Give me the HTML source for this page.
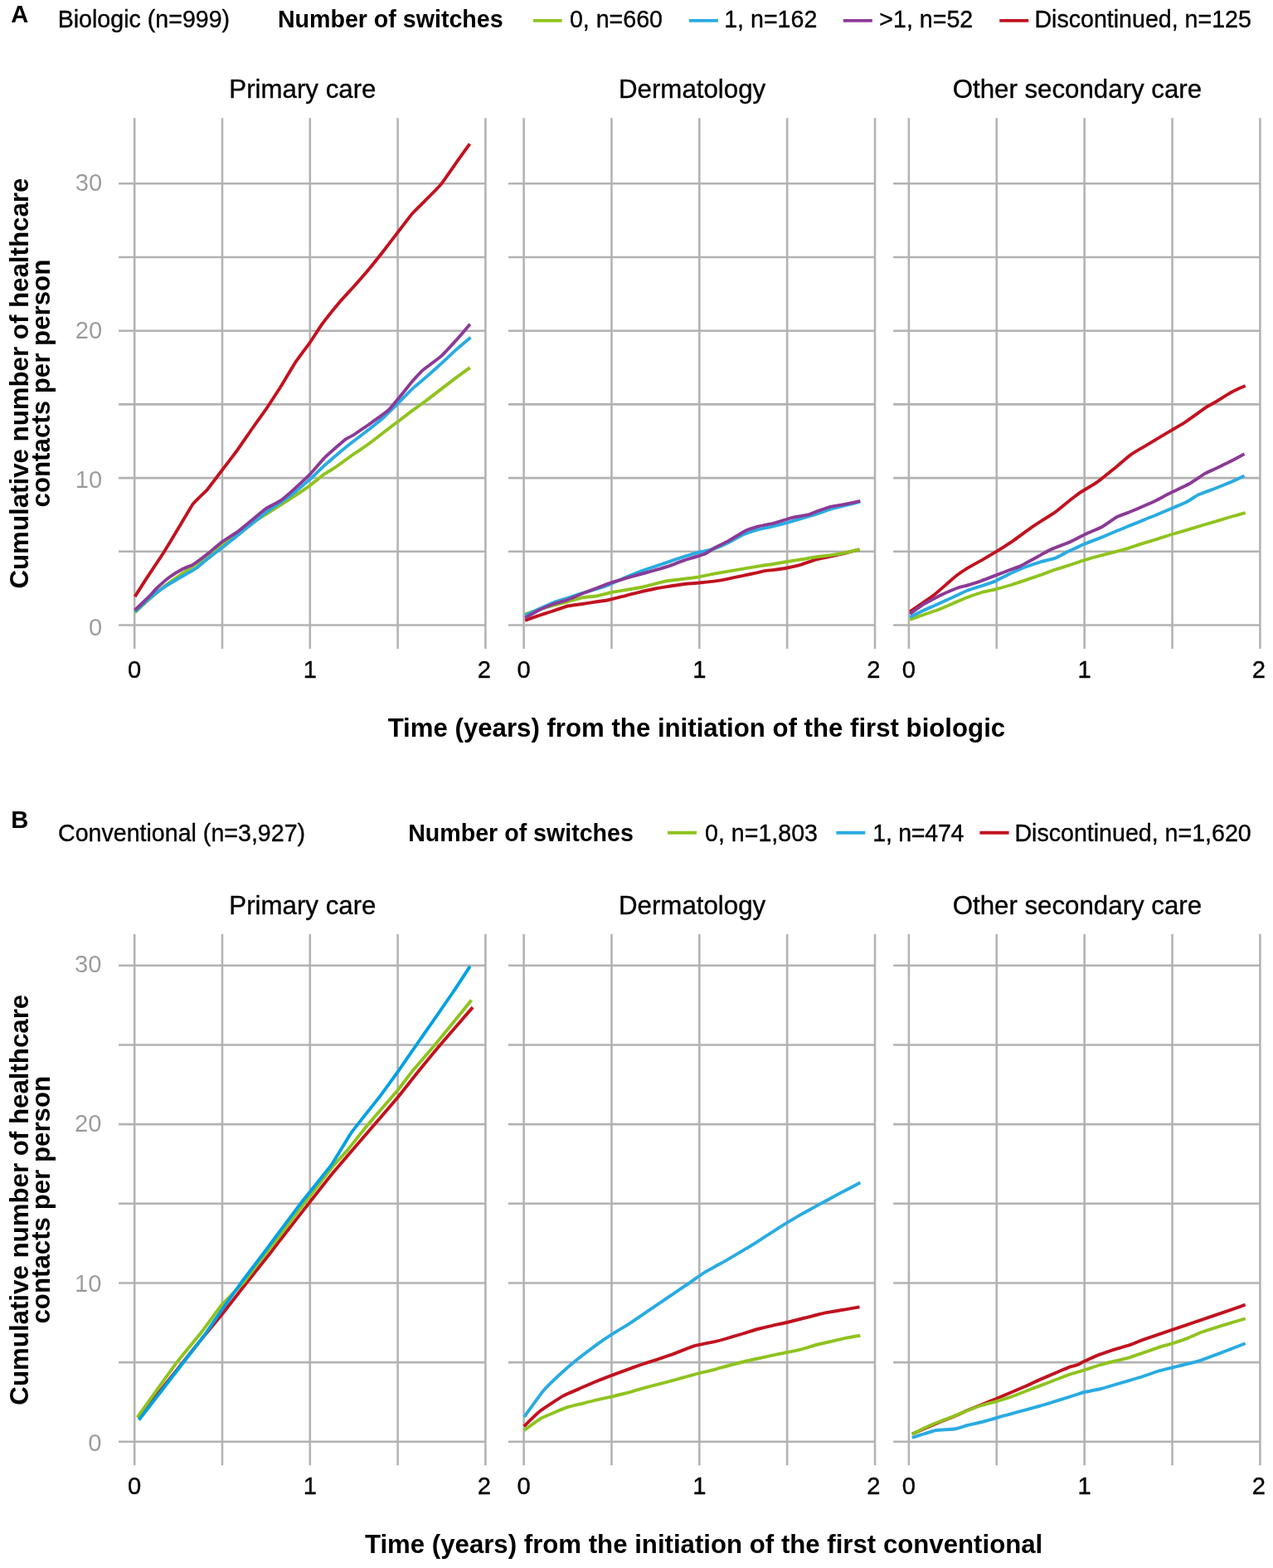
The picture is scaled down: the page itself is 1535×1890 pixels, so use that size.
<!DOCTYPE html>
<html lang="en"><head><meta charset="utf-8"><title>Cumulative number of healthcare contacts per person</title>
<style>html,body{margin:0;padding:0;background:#fff}body{width:1535px;height:1890px;overflow:hidden}svg{display:block;font-family:"Liberation Sans",Arial,Helvetica,sans-serif}text{white-space:pre}</style></head><body>
<svg width="1535" height="1890" viewBox="0 0 1535 1890">
<rect width="1535" height="1890" fill="#fff"/>
<g id="row-a">
<text x="13.2" y="26.7" font-size="29.17" font-weight="bold">A</text>
<text x="69.7" y="33.3" font-size="28.6" stroke="#000" stroke-width="0.35">Biologic (n=999)</text>
<text x="334.9" y="33.3" font-size="28.6" font-weight="bold">Number of switches</text>
<path d="M642.9 24.85H677.6" stroke="#8fc31f" stroke-width="3.9" fill="none"/>
<text x="686.9" y="33.3" font-size="28.6" stroke="#000" stroke-width="0.35">0, n=660</text>
<path d="M831.0 24.85H865.9" stroke="#29abe2" stroke-width="3.9" fill="none"/>
<text x="873.2" y="33.3" font-size="28.6" stroke="#000" stroke-width="0.35">1, n=162</text>
<path d="M1016.8 24.85H1051.8" stroke="#8b3a96" stroke-width="3.9" fill="none"/>
<text x="1060.3" y="33.3" font-size="28.6" stroke="#000" stroke-width="0.35">&gt;1, n=52</text>
<path d="M1205.2 24.85H1240.2" stroke="#c1121f" stroke-width="3.9" fill="none"/>
<text x="1247.4" y="33.3" font-size="28.6" stroke="#000" stroke-width="0.35">Discontinued, n=125</text>
<text x="364.9" y="117.8" font-size="31.25" text-anchor="middle" stroke="#000" stroke-width="0.35">Primary care</text>
<text x="834.6" y="117.8" font-size="31.25" text-anchor="middle" stroke="#000" stroke-width="0.35">Dermatology</text>
<text x="1298.9" y="117.8" font-size="31.25" text-anchor="middle" stroke="#000" stroke-width="0.35">Other secondary care</text>
<path d="M143.10 753.55H586.67M143.10 664.82H586.67M143.10 576.10H586.67M143.10 487.38H586.67M143.10 398.65H586.67M143.10 309.93H586.67M143.10 221.20H586.67M162.20 142.20V782.10M268.00 142.20V782.10M373.80 142.20V782.10M479.60 142.20V782.10M585.40 142.20V782.10M612.90 753.55H1056.28M612.90 664.82H1056.28M612.90 576.10H1056.28M612.90 487.38H1056.28M612.90 398.65H1056.28M612.90 309.93H1056.28M612.90 221.20H1056.28M631.60 142.20V782.10M737.45 142.20V782.10M843.30 142.20V782.10M949.15 142.20V782.10M1055.00 142.20V782.10M1077.10 753.55H1520.68M1077.10 664.82H1520.68M1077.10 576.10H1520.68M1077.10 487.38H1520.68M1077.10 398.65H1520.68M1077.10 309.93H1520.68M1077.10 221.20H1520.68M1095.90 142.20V782.10M1201.78 142.20V782.10M1307.65 142.20V782.10M1413.53 142.20V782.10M1519.40 142.20V782.10" fill="none" stroke="#b2b2b2" stroke-width="2.55"/>
<path d="M162.7 719.1C163.7 717.6 174.7 700.1 177.0 696.6C179.3 693.1 194.7 670.3 197.2 666.3C199.7 662.3 212.5 641.0 214.9 637.1C217.3 633.2 230.3 610.7 232.6 607.6C234.9 604.5 247.8 592.6 250.1 589.9C252.4 587.2 265.4 569.8 267.8 566.7C270.2 563.6 283.1 546.7 285.5 543.5C287.9 540.3 300.8 521.3 303.1 518.0C305.4 514.7 318.3 496.7 320.7 493.3C323.1 489.9 336.0 470.0 338.4 466.3C340.8 462.6 353.7 440.6 356.0 437.1C358.3 433.6 371.4 416.2 373.6 413.1C375.8 410.0 386.1 393.7 388.5 390.5C390.9 387.3 406.5 367.8 409.0 364.8C411.5 361.8 424.3 348.0 426.7 345.3C429.1 342.6 442.1 327.8 444.4 325.0C446.7 322.2 459.6 306.3 461.9 303.3C464.2 300.3 477.2 283.2 479.6 280.1C482.0 277.0 494.9 259.9 497.3 257.2C499.7 254.5 512.6 241.9 514.9 239.6C517.2 237.3 529.3 225.3 531.6 222.4C533.9 219.5 547.8 199.5 550.1 196.2C552.4 192.9 565.4 174.8 566.5 173.3" fill="none" stroke="#c1121f" stroke-width="3.9" stroke-linejoin="round"/>
<path d="M162.7 738.2C163.8 737.2 177.4 724.5 179.7 722.5C182.0 720.5 194.9 709.3 197.2 707.5C199.5 705.7 212.7 696.4 214.9 694.8C217.1 693.2 228.6 685.2 230.9 683.6C233.2 682.0 247.6 672.6 250.1 670.8C252.6 669.0 265.4 658.4 267.8 656.6C270.2 654.8 283.1 645.5 285.5 643.8C287.9 642.1 300.8 632.7 303.1 631.1C305.4 629.5 318.3 621.4 320.7 619.9C323.1 618.4 336.0 610.1 338.4 608.6C340.8 607.1 353.7 598.9 356.0 597.4C358.3 595.9 371.2 587.1 373.6 585.4C376.0 583.7 389.8 572.4 391.5 571.2C393.2 570.0 397.8 567.4 399.0 566.7C400.2 566.0 407.2 561.3 409.0 560.0C410.8 558.7 424.3 548.9 426.7 547.2C429.1 545.5 442.1 536.9 444.4 535.2C446.7 533.5 459.6 523.6 461.9 521.8C464.2 520.0 477.2 510.1 479.6 508.3C482.0 506.5 494.9 496.5 497.3 494.8C499.7 493.1 512.6 483.8 514.9 482.1C517.2 480.4 530.2 470.4 532.5 468.6C534.8 466.8 547.8 456.8 550.1 455.1C552.4 453.4 565.7 443.9 566.8 443.1" fill="none" stroke="#8fc31f" stroke-width="3.9" stroke-linejoin="round"/>
<path d="M162.7 737.5C163.8 736.5 177.4 723.7 179.7 721.8C182.0 719.9 194.9 709.9 197.2 708.3C199.5 706.7 212.5 698.9 214.9 697.5C217.3 696.1 231.0 688.2 232.6 687.3C234.2 686.4 237.2 684.5 238.4 683.6C239.6 682.7 248.1 675.4 250.1 673.8C252.1 672.2 265.4 662.1 267.8 660.3C270.2 658.5 283.1 648.0 285.5 646.1C287.9 644.2 300.8 633.8 303.1 631.9C305.4 630.0 318.3 619.4 320.7 617.6C323.1 615.8 336.0 607.2 338.4 605.6C340.8 604.0 353.7 594.7 356.0 592.9C358.3 591.1 371.2 580.0 373.6 577.9C376.0 575.8 389.1 562.8 391.5 560.7C393.9 558.6 406.7 547.6 409.0 545.7C411.3 543.8 424.3 533.3 426.7 531.5C429.1 529.7 442.1 519.8 444.4 518.0C446.7 516.2 459.6 505.9 461.9 503.8C464.2 501.7 477.2 488.8 479.6 486.5C482.0 484.2 494.9 470.8 497.3 468.6C499.7 466.4 512.6 455.6 514.9 453.6C517.2 451.6 530.2 440.0 532.5 437.9C534.8 435.8 547.8 423.5 550.1 421.4C552.4 419.3 566.3 407.7 567.5 406.7" fill="none" stroke="#29abe2" stroke-width="3.9" stroke-linejoin="round"/>
<path d="M162.7 735.5C163.8 734.4 177.9 720.9 179.7 719.1C181.5 717.3 187.4 710.5 189.0 709.0C190.6 707.5 201.8 697.5 203.9 696.0C206.0 694.5 218.5 686.8 220.4 685.8C222.3 684.8 230.6 681.8 232.6 680.6C234.6 679.4 247.8 669.6 250.1 667.8C252.4 666.0 265.4 654.8 267.8 653.1C270.2 651.4 283.1 643.3 285.5 641.6C287.9 639.9 300.8 629.3 303.1 627.4C305.4 625.5 318.3 614.7 320.7 613.1C323.1 611.5 336.0 605.0 338.4 603.4C340.8 601.8 353.7 590.5 356.0 588.4C358.3 586.3 371.2 574.3 373.6 571.9C376.0 569.5 389.1 554.1 391.5 551.7C393.9 549.3 407.3 537.5 409.0 536.0C410.7 534.5 415.7 530.1 416.9 529.3C418.1 528.5 424.9 525.2 426.7 524.0C428.5 522.8 442.1 513.6 444.4 512.0C446.7 510.4 460.2 500.5 461.9 499.3C463.6 498.1 468.2 494.5 469.4 493.3C470.6 492.1 477.7 483.5 479.6 481.3C481.5 479.1 495.4 461.8 497.3 459.6C499.2 457.4 507.1 448.8 508.3 447.6C509.5 446.4 513.3 443.5 514.9 442.3C516.5 441.1 530.2 431.0 532.5 428.9C534.8 426.8 547.8 412.6 550.1 410.1C552.4 407.6 565.7 392.0 566.8 390.7" fill="none" stroke="#8b3a96" stroke-width="3.9" stroke-linejoin="round"/>
<path d="M633.2 747.8C634.3 747.4 647.1 743.0 649.3 742.2C651.5 741.4 664.5 737.3 666.8 736.5C669.1 735.7 682.1 731.1 684.5 730.5C686.9 729.9 699.9 728.3 702.2 728.0C704.5 727.7 717.6 725.6 719.7 725.3C721.8 725.0 732.0 723.5 734.4 723.0C736.8 722.5 752.5 718.4 755.1 717.8C757.7 717.2 770.4 713.9 772.7 713.3C775.0 712.7 787.9 710.0 790.3 709.5C792.7 709.0 805.6 706.9 808.0 706.5C810.4 706.1 823.3 704.3 825.6 704.0C827.9 703.7 840.8 702.7 843.2 702.5C845.6 702.3 858.5 700.9 860.9 700.6C863.3 700.3 876.2 698.1 878.5 697.6C880.8 697.1 893.7 694.3 896.1 693.8C898.5 693.3 912.1 690.5 913.8 690.1C915.5 689.7 920.7 688.3 921.9 688.1C923.1 687.9 929.5 687.3 931.3 687.1C933.1 686.9 946.6 685.0 949.0 684.5C951.4 684.0 964.3 681.0 966.7 680.3C969.1 679.6 982.1 674.9 984.4 674.3C986.7 673.7 999.6 671.1 1001.9 670.6C1004.2 670.1 1017.3 667.1 1019.6 666.5C1021.9 665.9 1035.4 662.6 1036.5 662.3" fill="none" stroke="#c1121f" stroke-width="3.9" stroke-linejoin="round"/>
<path d="M633.2 740.3C634.3 739.9 647.1 735.7 649.3 735.0C651.5 734.3 664.5 730.4 666.8 729.8C669.1 729.2 682.1 725.9 684.5 725.3C686.9 724.7 699.9 720.8 702.2 720.3C704.5 719.8 717.4 718.9 719.7 718.5C722.0 718.1 735.0 714.5 737.4 714.0C739.8 713.5 752.7 711.4 755.1 711.0C757.5 710.6 770.4 708.5 772.7 708.0C775.0 707.5 788.6 704.0 790.3 703.6C792.0 703.2 797.6 701.6 798.8 701.3C800.0 701.0 806.2 700.0 808.0 699.8C809.8 699.6 823.3 697.9 825.6 697.6C827.9 697.3 840.8 695.7 843.2 695.3C845.6 694.9 858.5 692.0 860.9 691.6C863.3 691.2 876.2 689.0 878.5 688.6C880.8 688.2 893.7 686.0 896.1 685.6C898.5 685.2 911.5 683.0 913.8 682.6C916.1 682.2 929.0 680.4 931.3 680.0C933.6 679.6 946.6 677.4 949.0 677.0C951.4 676.6 964.3 674.7 966.7 674.3C969.1 673.9 982.1 671.6 984.4 671.3C986.7 671.0 999.6 669.4 1001.9 669.1C1004.2 668.8 1017.3 666.6 1019.6 666.1C1021.9 665.6 1035.4 662.6 1036.5 662.3" fill="none" stroke="#8fc31f" stroke-width="3.9" stroke-linejoin="round"/>
<path d="M633.2 741.8C634.3 741.3 647.1 735.3 649.3 734.3C651.5 733.3 664.5 727.4 666.8 726.5C669.1 725.6 682.1 721.6 684.5 720.8C686.9 720.0 699.9 715.5 702.2 714.8C704.5 714.1 717.4 710.7 719.7 710.0C722.0 709.3 735.0 704.6 737.4 703.6C739.8 702.6 752.7 696.6 755.1 695.6C757.5 694.6 770.4 689.5 772.7 688.6C775.0 687.7 787.9 683.4 790.3 682.6C792.7 681.8 805.6 677.4 808.0 676.6C810.4 675.8 823.3 671.3 825.6 670.6C827.9 669.9 840.8 666.2 843.2 665.6C845.6 665.0 858.5 662.4 860.9 661.6C863.3 660.8 876.2 655.2 878.5 654.1C880.8 653.0 893.7 645.4 896.1 644.4C898.5 643.4 911.5 639.1 913.8 638.4C916.1 637.7 929.0 635.2 931.3 634.6C933.6 634.0 946.6 630.7 949.0 630.1C951.4 629.5 964.3 625.6 966.7 624.9C969.1 624.2 982.1 620.4 984.4 619.6C986.7 618.8 999.6 614.3 1001.9 613.6C1004.2 612.9 1017.2 609.8 1019.6 609.2C1022.0 608.6 1036.1 605.0 1037.3 604.7" fill="none" stroke="#29abe2" stroke-width="3.9" stroke-linejoin="round"/>
<path d="M633.2 744.8C634.3 744.2 647.1 736.9 649.3 735.8C651.5 734.7 664.5 729.2 666.8 728.3C669.1 727.4 682.1 723.9 684.5 723.0C686.9 722.1 699.9 716.4 702.2 715.5C704.5 714.6 717.4 709.7 719.7 708.8C722.0 707.9 735.0 702.9 737.4 702.1C739.8 701.3 752.7 697.5 755.1 696.8C757.5 696.1 770.4 692.6 772.7 692.0C775.0 691.4 787.9 687.8 790.3 687.1C792.7 686.4 805.6 682.6 808.0 681.8C810.4 681.0 822.8 676.0 825.6 675.1C828.4 674.2 847.6 668.6 850.0 667.6C852.4 666.6 859.0 661.8 860.9 660.8C862.8 659.8 875.9 653.3 878.5 651.9C881.1 650.5 897.0 640.8 899.4 639.6C901.8 638.4 911.7 635.2 913.8 634.6C915.9 634.0 928.6 631.9 931.3 631.2C934.0 630.5 952.5 624.7 954.9 624.1C957.3 623.5 965.3 622.2 966.7 621.9C968.1 621.6 974.6 620.5 975.8 620.1C977.0 619.7 982.7 617.2 984.4 616.6C986.1 616.0 999.6 611.3 1001.9 610.7C1004.2 610.1 1017.2 608.2 1019.6 607.7C1022.0 607.2 1036.1 604.2 1037.3 603.9" fill="none" stroke="#8b3a96" stroke-width="3.9" stroke-linejoin="round"/>
<path d="M1097.2 737.3C1098.3 736.5 1111.6 727.4 1113.6 726.0C1115.6 724.6 1123.8 719.1 1126.5 717.0C1129.2 714.9 1150.7 695.9 1153.4 693.8C1156.1 691.7 1164.5 686.0 1166.5 684.8C1168.5 683.6 1181.7 676.4 1184.0 675.1C1186.3 673.8 1199.3 666.0 1201.7 664.6C1204.1 663.2 1217.0 655.0 1219.4 653.4C1221.8 651.8 1234.7 642.3 1237.0 640.6C1239.3 638.9 1252.2 630.1 1254.6 628.6C1257.0 627.1 1269.9 619.1 1272.3 617.4C1274.7 615.7 1287.9 604.7 1289.9 603.2C1291.9 601.7 1299.6 595.7 1301.8 594.2C1304.0 592.7 1320.3 583.0 1323.0 581.1C1325.7 579.2 1340.2 567.5 1342.9 565.3C1345.6 563.1 1361.0 549.8 1363.4 548.1C1365.8 546.4 1376.1 540.4 1378.3 539.1C1380.5 537.8 1393.5 530.0 1395.8 528.6C1398.1 527.2 1411.5 519.3 1413.5 518.1C1415.5 516.9 1423.6 512.5 1426.4 510.7C1429.2 508.9 1452.1 492.5 1454.8 490.7C1457.5 488.9 1464.5 485.3 1466.4 484.1C1468.3 482.9 1481.6 474.5 1484.0 473.2C1486.4 471.9 1500.5 465.5 1501.7 465.0" fill="none" stroke="#c1121f" stroke-width="3.9" stroke-linejoin="round"/>
<path d="M1097.2 747.0C1098.3 746.6 1111.3 741.8 1113.6 741.0C1115.9 740.2 1129.4 735.6 1131.1 735.0C1132.8 734.4 1137.2 732.5 1138.4 732.0C1139.6 731.5 1146.9 728.3 1148.8 727.5C1150.7 726.7 1164.2 720.9 1166.5 720.0C1168.8 719.1 1181.7 714.7 1184.0 714.0C1186.3 713.3 1199.3 710.6 1201.7 710.0C1204.1 709.4 1217.0 705.7 1219.4 705.0C1221.8 704.3 1234.7 699.9 1237.0 699.1C1239.3 698.3 1252.2 693.9 1254.6 693.1C1257.0 692.3 1269.9 687.4 1272.3 686.6C1274.7 685.8 1287.5 681.9 1289.9 681.1C1292.3 680.3 1305.2 675.8 1307.6 675.1C1310.0 674.4 1323.0 670.8 1325.4 670.2C1327.8 669.6 1341.0 666.2 1342.9 665.7C1344.8 665.2 1352.0 663.4 1354.4 662.7C1356.8 662.0 1375.5 655.8 1378.3 654.9C1381.1 654.0 1393.5 650.3 1395.8 649.6C1398.1 648.9 1411.1 644.7 1413.5 644.0C1415.9 643.3 1428.8 639.5 1431.2 638.8C1433.6 638.1 1446.5 634.2 1448.8 633.5C1451.1 632.8 1464.1 629.0 1466.4 628.3C1468.7 627.6 1481.6 623.7 1484.0 623.0C1486.4 622.3 1500.5 618.4 1501.7 618.1" fill="none" stroke="#8fc31f" stroke-width="3.9" stroke-linejoin="round"/>
<path d="M1097.2 744.0C1098.3 743.5 1111.3 736.9 1113.6 735.8C1115.9 734.7 1128.8 729.1 1131.1 728.0C1133.4 726.9 1146.4 721.1 1148.8 720.0C1151.2 718.9 1164.2 712.7 1166.5 711.8C1168.8 710.9 1181.8 706.8 1184.0 706.1C1186.2 705.4 1197.5 701.6 1199.9 700.6C1202.3 699.6 1216.9 692.0 1219.4 690.8C1221.9 689.6 1234.7 684.2 1237.0 683.3C1239.3 682.4 1252.2 678.0 1254.6 677.3C1257.0 676.6 1269.9 673.7 1272.3 672.8C1274.7 671.9 1287.5 664.9 1289.9 663.8C1292.3 662.7 1305.2 656.6 1307.6 655.6C1310.0 654.6 1323.0 649.7 1325.4 648.8C1327.8 647.9 1340.6 642.5 1342.9 641.5C1345.2 640.5 1358.2 635.3 1360.6 634.3C1363.0 633.3 1376.0 628.1 1378.3 627.1C1380.6 626.1 1393.5 621.0 1395.8 620.0C1398.1 619.0 1411.3 613.4 1413.5 612.5C1415.7 611.6 1427.2 606.9 1429.4 605.8C1431.6 604.7 1443.3 597.3 1445.8 596.1C1448.3 594.9 1463.9 589.3 1466.4 588.3C1468.9 587.3 1481.7 582.1 1484.0 581.1C1486.3 580.1 1499.4 574.1 1500.5 573.6" fill="none" stroke="#29abe2" stroke-width="3.9" stroke-linejoin="round"/>
<path d="M1097.2 740.0C1098.3 739.2 1111.3 729.7 1113.6 728.3C1115.9 726.9 1128.8 720.2 1131.1 719.0C1133.4 717.8 1147.1 711.7 1148.8 711.0C1150.5 710.3 1155.2 708.4 1156.4 708.0C1157.6 707.6 1164.7 706.0 1166.5 705.5C1168.3 705.0 1181.7 700.6 1184.0 699.8C1186.3 699.0 1199.3 694.0 1201.7 693.1C1204.1 692.2 1217.5 687.0 1219.4 686.3C1221.3 685.6 1228.6 683.1 1229.8 682.6C1231.0 682.1 1235.3 679.7 1237.0 678.8C1238.7 677.9 1252.5 670.2 1254.6 669.1C1256.7 668.0 1266.4 662.6 1268.8 661.6C1271.2 660.6 1287.3 654.5 1289.9 653.4C1292.5 652.3 1305.0 645.6 1307.6 644.4C1310.2 643.2 1326.4 636.4 1329.0 635.0C1331.6 633.6 1344.8 624.1 1346.9 623.0C1349.0 621.9 1358.5 618.6 1360.6 617.8C1362.7 617.0 1376.3 611.2 1378.3 610.3C1380.3 609.4 1388.1 606.1 1390.4 605.0C1392.7 603.9 1410.6 594.5 1413.5 593.1C1416.4 591.7 1431.2 584.8 1433.9 583.3C1436.6 581.8 1451.1 571.8 1453.3 570.6C1455.5 569.4 1464.4 565.6 1466.4 564.6C1468.4 563.6 1481.7 557.3 1484.0 556.1C1486.3 554.9 1499.4 547.7 1500.5 547.1" fill="none" stroke="#8b3a96" stroke-width="3.9" stroke-linejoin="round"/>
<text x="123.3" y="766.1" font-size="29.17" text-anchor="end" fill="#999999" stroke="#fff" stroke-width="0.12">0</text>
<text x="123.3" y="587.9" font-size="29.17" text-anchor="end" fill="#999999" stroke="#fff" stroke-width="0.12">10</text>
<text x="123.3" y="408.3" font-size="29.17" text-anchor="end" fill="#999999" stroke="#fff" stroke-width="0.12">20</text>
<text x="123.3" y="229.6" font-size="29.17" text-anchor="end" fill="#999999" stroke="#fff" stroke-width="0.12">30</text>
<text x="162.2" y="817.0" font-size="29.17" text-anchor="middle" stroke="#000" stroke-width="0.35">0</text>
<text x="373.8" y="817.0" font-size="29.17" text-anchor="middle" stroke="#000" stroke-width="0.35">1</text>
<text x="583.8" y="817.0" font-size="29.17" text-anchor="middle" stroke="#000" stroke-width="0.35">2</text>
<text x="631.6" y="817.0" font-size="29.17" text-anchor="middle" stroke="#000" stroke-width="0.35">0</text>
<text x="843.3" y="817.0" font-size="29.17" text-anchor="middle" stroke="#000" stroke-width="0.35">1</text>
<text x="1053.4" y="817.0" font-size="29.17" text-anchor="middle" stroke="#000" stroke-width="0.35">2</text>
<text x="1095.9" y="817.0" font-size="29.17" text-anchor="middle" stroke="#000" stroke-width="0.35">0</text>
<text x="1307.7" y="817.0" font-size="29.17" text-anchor="middle" stroke="#000" stroke-width="0.35">1</text>
<text x="1517.8" y="817.0" font-size="29.17" text-anchor="middle" stroke="#000" stroke-width="0.35">2</text>
<g transform="translate(0 462.1) rotate(-90)" font-size="31.25" font-weight="bold" text-anchor="middle"><text x="0" y="33.9">Cumulative number of healthcare</text><text x="0" y="60.1">contacts per person</text></g>
<text x="839.9" y="887.8" font-size="31.2" text-anchor="middle" font-weight="bold">Time (years) from the initiation of the first biologic</text>
</g>
<g id="row-b">
<text x="13.2" y="998.1" font-size="29.17" font-weight="bold">B</text>
<text x="70.0" y="1013.9" font-size="28.6" stroke="#000" stroke-width="0.35">Conventional (n=3,927)</text>
<text x="492.2" y="1013.9" font-size="28.6" font-weight="bold">Number of switches</text>
<path d="M804.9 1003.8H840.0" stroke="#8fc31f" stroke-width="3.9" fill="none"/>
<text x="850.0" y="1013.9" font-size="28.6" stroke="#000" stroke-width="0.35">0, n=1,803</text>
<path d="M1008.4 1003.8H1043.3" stroke="#29abe2" stroke-width="3.9" fill="none"/>
<text x="1052.3" y="1013.9" font-size="28.6" stroke="#000" stroke-width="0.35" textLength="110.1" lengthAdjust="spacing">1, n=474</text>
<path d="M1181.4 1003.8H1216.6" stroke="#c1121f" stroke-width="3.9" fill="none"/>
<text x="1223.4" y="1013.9" font-size="28.6" stroke="#000" stroke-width="0.35">Discontinued, n=1,620</text>
<text x="364.9" y="1101.7" font-size="31.25" text-anchor="middle" stroke="#000" stroke-width="0.35">Primary care</text>
<text x="834.6" y="1101.7" font-size="31.25" text-anchor="middle" stroke="#000" stroke-width="0.35">Dermatology</text>
<text x="1298.9" y="1101.7" font-size="31.25" text-anchor="middle" stroke="#000" stroke-width="0.35">Other secondary care</text>
<path d="M143.10 1737.80H586.67M143.10 1642.13H586.67M143.10 1546.47H586.67M143.10 1450.80H586.67M143.10 1355.13H586.67M143.10 1259.47H586.67M143.10 1163.80H586.67M162.20 1126.10V1766.20M268.00 1126.10V1766.20M373.80 1126.10V1766.20M479.60 1126.10V1766.20M585.40 1126.10V1766.20M612.90 1737.80H1056.28M612.90 1642.13H1056.28M612.90 1546.47H1056.28M612.90 1450.80H1056.28M612.90 1355.13H1056.28M612.90 1259.47H1056.28M612.90 1163.80H1056.28M631.60 1126.10V1766.20M737.45 1126.10V1766.20M843.30 1126.10V1766.20M949.15 1126.10V1766.20M1055.00 1126.10V1766.20M1077.10 1737.80H1520.68M1077.10 1642.13H1520.68M1077.10 1546.47H1520.68M1077.10 1450.80H1520.68M1077.10 1355.13H1520.68M1077.10 1259.47H1520.68M1077.10 1163.80H1520.68M1095.90 1126.10V1766.20M1201.78 1126.10V1766.20M1307.65 1126.10V1766.20M1413.53 1126.10V1766.20M1519.40 1126.10V1766.20" fill="none" stroke="#b2b2b2" stroke-width="2.55"/>
<path d="M166.7 1709.5C170.3 1705.0 215.2 1648.8 220.5 1642.2C225.8 1635.6 242.3 1614.9 245.5 1611.0C248.7 1607.1 264.4 1588.3 267.9 1584.0C271.3 1579.7 293.4 1551.2 297.3 1546.3C301.2 1541.4 323.3 1513.8 326.2 1510.0C329.1 1506.2 338.4 1494.0 341.5 1490.0C344.6 1486.0 368.3 1455.7 372.3 1450.6C376.3 1445.5 396.3 1419.9 401.6 1413.5C406.9 1407.1 446.7 1361.1 451.9 1355.0C457.1 1349.0 476.2 1326.9 479.4 1323.0C482.7 1319.1 496.6 1301.2 500.0 1297.0C503.4 1292.8 526.1 1265.0 530.8 1259.5C535.5 1254.0 567.5 1217.1 570.1 1214.1" fill="none" stroke="#c1121f" stroke-width="3.9" stroke-linejoin="round"/>
<path d="M165.6 1708.3C168.8 1703.9 208.0 1649.1 213.2 1642.2C218.4 1635.3 239.9 1609.7 243.5 1605.0C247.1 1600.3 264.5 1576.3 267.9 1572.4C271.2 1568.5 290.3 1549.7 293.3 1546.3C296.3 1542.9 309.3 1525.1 312.2 1521.3C315.1 1517.5 333.2 1494.7 336.8 1490.0C340.4 1485.3 362.5 1456.2 366.8 1450.6C371.1 1445.0 398.1 1409.9 401.6 1405.6C405.1 1401.3 416.3 1389.6 419.1 1386.2C421.9 1382.8 440.1 1359.8 444.1 1355.0C448.1 1350.2 475.8 1318.5 479.4 1314.2C483.1 1309.9 495.1 1293.6 498.1 1290.0C501.1 1286.4 519.7 1265.1 524.4 1259.5C529.1 1253.9 565.6 1209.0 568.5 1205.4" fill="none" stroke="#8fc31f" stroke-width="3.9" stroke-linejoin="round"/>
<path d="M167.5 1711.6C171.1 1707.0 215.8 1649.1 221.1 1642.2C226.4 1635.3 243.8 1613.1 246.9 1608.8C250.0 1604.5 264.9 1582.5 267.9 1578.3C270.8 1574.1 287.3 1550.9 290.7 1546.3C294.1 1541.7 313.4 1516.4 318.2 1510.0C323.0 1503.6 357.0 1457.7 362.5 1450.6C368.0 1443.5 396.0 1409.0 400.1 1403.3C404.2 1397.6 419.9 1370.6 423.8 1365.1C427.7 1359.6 454.5 1326.2 458.2 1321.3C461.9 1316.4 477.1 1295.6 480.0 1291.5C482.9 1287.4 497.7 1265.8 502.1 1259.5C506.5 1253.2 541.6 1202.8 545.9 1196.5C550.2 1190.2 565.5 1166.8 566.9 1164.7" fill="none" stroke="#00a0e3" stroke-width="3.9" stroke-linejoin="round"/>
<path d="M631.8 1719.4C633.1 1718.1 648.5 1703.1 651.6 1700.6C654.7 1698.1 675.5 1684.5 678.9 1682.6C682.3 1680.7 699.5 1673.5 702.2 1672.3C704.9 1671.1 717.4 1665.8 719.7 1664.8C722.0 1663.8 735.0 1658.7 737.4 1657.8C739.8 1656.9 752.7 1652.2 755.1 1651.3C757.5 1650.4 770.4 1645.8 772.7 1645.0C775.0 1644.2 787.9 1640.1 790.3 1639.3C792.7 1638.5 805.6 1634.2 808.0 1633.4C810.4 1632.6 823.6 1627.4 825.6 1626.6C827.6 1625.8 835.4 1622.7 837.8 1622.1C840.2 1621.5 858.5 1617.8 860.9 1617.3C863.3 1616.8 871.7 1614.7 874.0 1614.0C876.3 1613.3 893.4 1608.3 896.1 1607.5C898.8 1606.7 911.5 1602.6 913.8 1602.0C916.1 1601.4 929.0 1598.3 931.3 1597.8C933.6 1597.3 946.6 1594.6 949.0 1594.0C951.4 1593.4 964.3 1590.1 966.7 1589.5C969.1 1588.9 982.4 1585.5 984.4 1585.0C986.4 1584.5 994.5 1582.5 996.8 1582.1C999.1 1581.7 1017.0 1578.8 1019.6 1578.3C1022.2 1577.8 1035.4 1575.5 1036.5 1575.3" fill="none" stroke="#c1121f" stroke-width="3.9" stroke-linejoin="round"/>
<path d="M632.0 1724.0C633.4 1723.0 649.7 1711.0 653.1 1709.2C656.5 1707.4 679.6 1697.9 682.9 1696.7C686.2 1695.5 699.7 1692.4 702.2 1691.8C704.7 1691.2 717.4 1687.8 719.7 1687.3C722.0 1686.8 735.0 1684.1 737.4 1683.6C739.8 1683.1 752.7 1679.7 755.1 1679.1C757.5 1678.5 770.4 1674.8 772.7 1674.1C775.0 1673.4 787.9 1669.9 790.3 1669.3C792.7 1668.7 805.6 1665.4 808.0 1664.8C810.4 1664.2 823.3 1660.6 825.6 1660.0C827.9 1659.4 840.8 1655.7 843.2 1655.1C845.6 1654.5 858.5 1651.6 860.9 1651.0C863.3 1650.4 876.2 1646.6 878.5 1646.0C880.8 1645.4 893.7 1642.1 896.1 1641.5C898.5 1640.9 911.5 1638.0 913.8 1637.5C916.1 1637.0 929.0 1634.2 931.3 1633.7C933.6 1633.2 946.6 1630.5 949.0 1630.0C951.4 1629.5 964.3 1626.9 966.7 1626.3C969.1 1625.7 982.1 1621.6 984.4 1621.0C986.7 1620.4 999.6 1617.5 1001.9 1617.0C1004.2 1616.5 1017.2 1613.3 1019.6 1612.8C1022.0 1612.3 1036.1 1610.0 1037.3 1609.8" fill="none" stroke="#8fc31f" stroke-width="3.9" stroke-linejoin="round"/>
<path d="M632.0 1708.0C633.6 1705.9 652.3 1679.7 655.5 1676.0C658.7 1672.3 676.6 1655.3 679.7 1652.5C682.8 1649.7 699.5 1635.9 702.2 1633.8C704.9 1631.7 717.4 1622.3 719.7 1620.6C722.0 1618.9 735.0 1610.1 737.4 1608.6C739.8 1607.1 752.7 1599.3 755.1 1597.8C757.5 1596.3 770.4 1587.8 772.7 1586.2C775.0 1584.6 787.9 1575.8 790.3 1574.2C792.7 1572.6 805.6 1563.8 808.0 1562.2C810.4 1560.6 822.8 1552.1 825.6 1550.2C828.4 1548.3 847.6 1534.9 850.0 1533.4C852.4 1531.9 859.0 1528.5 860.9 1527.4C862.8 1526.3 876.2 1519.0 878.5 1517.6C880.8 1516.2 893.7 1508.5 896.1 1507.1C898.5 1505.7 911.5 1497.8 913.8 1496.3C916.1 1494.8 929.0 1486.6 931.3 1485.1C933.6 1483.6 946.6 1475.3 949.0 1473.9C951.4 1472.5 964.3 1464.8 966.7 1463.4C969.1 1462.0 982.1 1454.9 984.4 1453.6C986.7 1452.3 999.6 1445.5 1001.9 1444.2C1004.2 1442.9 1017.2 1436.0 1019.6 1434.8C1022.0 1433.6 1036.1 1426.1 1037.3 1425.5" fill="none" stroke="#29abe2" stroke-width="3.9" stroke-linejoin="round"/>
<path d="M1099.8 1728.5C1100.7 1728.1 1111.5 1723.4 1113.6 1722.5C1115.7 1721.6 1128.8 1716.0 1131.1 1715.0C1133.4 1714.0 1146.4 1709.0 1148.8 1708.0C1151.2 1707.0 1164.2 1701.0 1166.5 1700.0C1168.8 1699.0 1181.7 1693.9 1184.0 1693.0C1186.3 1692.1 1199.3 1686.8 1201.7 1685.8C1204.1 1684.8 1217.0 1679.3 1219.4 1678.3C1221.8 1677.3 1234.7 1671.8 1237.0 1670.8C1239.3 1669.8 1252.2 1663.6 1254.6 1662.6C1257.0 1661.6 1269.9 1656.1 1272.3 1655.1C1274.7 1654.1 1288.1 1648.3 1289.9 1647.6C1291.7 1646.9 1297.6 1645.8 1298.8 1645.3C1300.0 1644.8 1305.7 1641.7 1307.6 1640.8C1309.5 1639.9 1325.1 1633.0 1327.5 1632.1C1329.9 1631.2 1340.5 1627.6 1342.9 1626.8C1345.3 1626.0 1361.0 1621.6 1363.4 1620.8C1365.8 1620.0 1376.1 1615.6 1378.3 1614.8C1380.5 1614.0 1393.5 1609.6 1395.8 1608.8C1398.1 1608.0 1411.1 1603.6 1413.5 1602.8C1415.9 1602.0 1428.8 1597.6 1431.2 1596.8C1433.6 1596.0 1446.5 1591.6 1448.8 1590.8C1451.1 1590.0 1464.1 1585.7 1466.4 1584.9C1468.7 1584.1 1481.6 1579.7 1484.0 1578.9C1486.4 1578.1 1500.5 1573.0 1501.7 1572.6" fill="none" stroke="#c1121f" stroke-width="3.9" stroke-linejoin="round"/>
<path d="M1099.8 1729.0C1100.7 1728.5 1112.1 1722.5 1113.6 1721.8C1115.1 1721.1 1120.8 1718.5 1122.0 1718.0C1123.2 1717.5 1129.3 1715.0 1131.1 1714.3C1132.9 1713.6 1146.4 1708.4 1148.8 1707.5C1151.2 1706.6 1164.2 1701.2 1166.5 1700.3C1168.8 1699.4 1181.7 1694.7 1184.0 1694.0C1186.3 1693.3 1199.3 1689.8 1201.7 1689.1C1204.1 1688.4 1217.0 1684.4 1219.4 1683.6C1221.8 1682.8 1234.7 1677.7 1237.0 1676.8C1239.3 1675.9 1252.2 1671.0 1254.6 1670.1C1257.0 1669.2 1269.9 1664.2 1272.3 1663.3C1274.7 1662.4 1287.5 1657.4 1289.9 1656.6C1292.3 1655.8 1305.2 1652.0 1307.6 1651.3C1310.0 1650.6 1323.0 1646.2 1325.4 1645.5C1327.8 1644.8 1340.4 1641.6 1342.9 1641.0C1345.4 1640.4 1361.0 1636.5 1363.4 1635.8C1365.8 1635.1 1376.1 1631.3 1378.3 1630.6C1380.5 1629.9 1393.5 1625.4 1395.8 1624.6C1398.1 1623.8 1411.1 1620.1 1413.5 1619.3C1415.9 1618.5 1428.8 1614.2 1431.2 1613.3C1433.6 1612.4 1446.7 1606.6 1448.8 1605.8C1450.9 1605.0 1460.0 1602.0 1462.3 1601.3C1464.6 1600.6 1481.4 1595.4 1484.0 1594.6C1486.6 1593.8 1500.5 1589.7 1501.7 1589.3" fill="none" stroke="#8fc31f" stroke-width="3.9" stroke-linejoin="round"/>
<path d="M1099.8 1733.0C1100.7 1732.7 1111.7 1729.1 1113.6 1728.5C1115.5 1727.9 1126.2 1724.4 1128.7 1724.0C1131.2 1723.6 1147.9 1722.9 1150.4 1722.5C1152.9 1722.1 1164.3 1718.6 1166.5 1718.0C1168.7 1717.4 1181.7 1714.6 1184.0 1714.0C1186.3 1713.4 1199.3 1709.7 1201.7 1709.0C1204.1 1708.3 1217.0 1704.7 1219.4 1704.1C1221.8 1703.5 1234.7 1699.9 1237.0 1699.3C1239.3 1698.7 1252.2 1695.2 1254.6 1694.5C1257.0 1693.8 1269.9 1689.8 1272.3 1689.1C1274.7 1688.4 1287.5 1684.3 1289.9 1683.6C1292.3 1682.9 1305.2 1678.6 1307.6 1678.0C1310.0 1677.4 1323.0 1675.1 1325.4 1674.5C1327.8 1673.9 1340.6 1670.2 1342.9 1669.5C1345.2 1668.8 1358.2 1665.0 1360.6 1664.3C1363.0 1663.6 1376.0 1659.8 1378.3 1659.0C1380.6 1658.2 1393.5 1653.7 1395.8 1653.0C1398.1 1652.3 1411.1 1649.1 1413.5 1648.5C1415.9 1647.9 1429.0 1644.5 1431.2 1644.0C1433.4 1643.5 1443.5 1641.0 1445.8 1640.3C1448.1 1639.6 1463.9 1633.7 1466.4 1632.8C1468.9 1631.9 1481.6 1627.0 1484.0 1626.1C1486.4 1625.2 1500.5 1619.8 1501.7 1619.3" fill="none" stroke="#29abe2" stroke-width="3.9" stroke-linejoin="round"/>
<text x="122.5" y="1748.7" font-size="29.17" text-anchor="end" fill="#999999" stroke="#fff" stroke-width="0.12">0</text>
<text x="122.5" y="1556.6" font-size="29.17" text-anchor="end" fill="#999999" stroke="#fff" stroke-width="0.12">10</text>
<text x="122.5" y="1364.4" font-size="29.17" text-anchor="end" fill="#999999" stroke="#fff" stroke-width="0.12">20</text>
<text x="122.5" y="1172.3" font-size="29.17" text-anchor="end" fill="#999999" stroke="#fff" stroke-width="0.12">30</text>
<text x="162.2" y="1801.1" font-size="29.17" text-anchor="middle" stroke="#000" stroke-width="0.35">0</text>
<text x="373.8" y="1801.1" font-size="29.17" text-anchor="middle" stroke="#000" stroke-width="0.35">1</text>
<text x="583.8" y="1801.1" font-size="29.17" text-anchor="middle" stroke="#000" stroke-width="0.35">2</text>
<text x="631.6" y="1801.1" font-size="29.17" text-anchor="middle" stroke="#000" stroke-width="0.35">0</text>
<text x="843.3" y="1801.1" font-size="29.17" text-anchor="middle" stroke="#000" stroke-width="0.35">1</text>
<text x="1053.4" y="1801.1" font-size="29.17" text-anchor="middle" stroke="#000" stroke-width="0.35">2</text>
<text x="1095.9" y="1801.1" font-size="29.17" text-anchor="middle" stroke="#000" stroke-width="0.35">0</text>
<text x="1307.7" y="1801.1" font-size="29.17" text-anchor="middle" stroke="#000" stroke-width="0.35">1</text>
<text x="1517.8" y="1801.1" font-size="29.17" text-anchor="middle" stroke="#000" stroke-width="0.35">2</text>
<g transform="translate(0 1446.2) rotate(-90)" font-size="31.25" font-weight="bold" text-anchor="middle"><text x="0" y="33.9">Cumulative number of healthcare</text><text x="0" y="60.1">contacts per person</text></g>
<text x="848.6" y="1872.0" font-size="31.2" text-anchor="middle" font-weight="bold">Time (years) from the initiation of the first conventional</text>
</g>
</svg></body></html>
